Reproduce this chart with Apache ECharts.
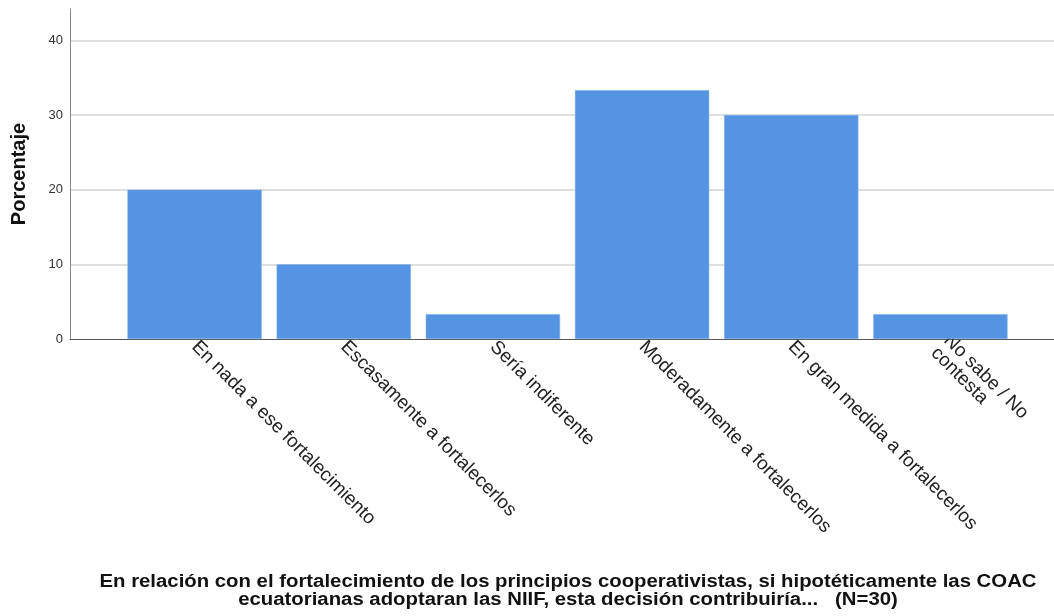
<!DOCTYPE html>
<html>
<head>
<meta charset="utf-8">
<script src="https://cdn.jsdelivr.net/npm/echarts@6/dist/echarts.min.js"></script>
<style>html,body{margin:0;padding:0;background:#fff}#c{width:1054px;height:616px}</style>
</head>
<body>
<div id="c"></div>
<script>
const categories = ['En nada a ese fortalecimiento', 'Escasamente a fortalecerlos', 'Sería indiferente', 'Moderadamente a fortalecerlos', 'En gran medida a fortalecerlos', 'No sabe / No\ncontesta'];
const percentages = [20.0, 10.0, 3.33, 33.33, 30.0, 3.33];
const yTicks = [0, 10, 20, 30, 40];
const yName = 'Porcentaje';
const titleText = 'En relación con el fortalecimiento de los principios cooperativistas, si hipotéticamente las COAC\necuatorianas adoptaran las NIIF, esta decisión contribuiría...   (N=30)';

const FONT = 'Liberation Sans, Arial, sans-serif';
const yMax = 44.2;
const chart = echarts.init(document.getElementById('c'));
chart.setOption({
  animation: false,
  backgroundColor: '#ffffff',
  graphic: [{
    type: 'text', x: 568, y: 573, scaleX: 1.13, scaleY: 1, originX: 0, originY: 0,
    style: { text: titleText, textAlign: 'center', textVerticalAlign: 'top',
      font: 'bold 18px Liberation Sans, Arial, sans-serif', lineHeight: 18, fill: '#111' }
  }],
  grid: [
    { left: 70, right: 0, top: 9, bottom: 277, outerBoundsMode: 'none', containLabel: false },
    { left: 120, right: 39, top: 9, bottom: 277, outerBoundsMode: 'none', containLabel: false }
  ],
  xAxis: [
    { gridIndex: 0, type: 'value', min: 0, max: 1, show: true,
      axisLine: { show: true, lineStyle: { color: '#555', width: 1 } },
      axisTick: { show: false }, axisLabel: { show: false }, splitLine: { show: false } },
    { gridIndex: 1, type: 'category', data: categories,
      axisLine: { show: false }, axisTick: { show: false }, splitLine: { show: false },
      axisLabel: { interval: 0, rotate: -45, margin: 5, fontFamily: FONT, fontSize: 19, color: '#222', lineHeight: 18 } }
  ],
  yAxis: [
    { gridIndex: 0, type: 'value', min: 0, max: yMax, interval: 10,
      name: yName, nameLocation: 'middle', nameGap: 41,
      nameTextStyle: { fontFamily: FONT, fontSize: 20, fontWeight: 'bold', color: '#111' },
      axisLine: { show: true, lineStyle: { color: '#888', width: 1 } },
      axisTick: { show: false },
      axisLabel: { showMaxLabel: false, margin: 7, fontFamily: FONT, fontSize: 13, color: '#333',
        formatter: v => yTicks.includes(v) ? String(v) : '' },
      splitLine: { show: true, showMinLine: false, showMaxLine: false, lineStyle: { color: '#d4d4d4', width: 1.5 } } },
    { gridIndex: 1, type: 'value', min: 0, max: yMax, interval: 10, show: false, splitLine: { show: false } }
  ],
  series: [{
    type: 'bar', xAxisIndex: 1, yAxisIndex: 1,
    data: percentages,
    barCategoryGap: '10%',
    itemStyle: { color: '#5594e2', borderColor: '#7aaeea', borderWidth: 0.5 },
    z: 3
  }]
});
</script>
</body>
</html>
